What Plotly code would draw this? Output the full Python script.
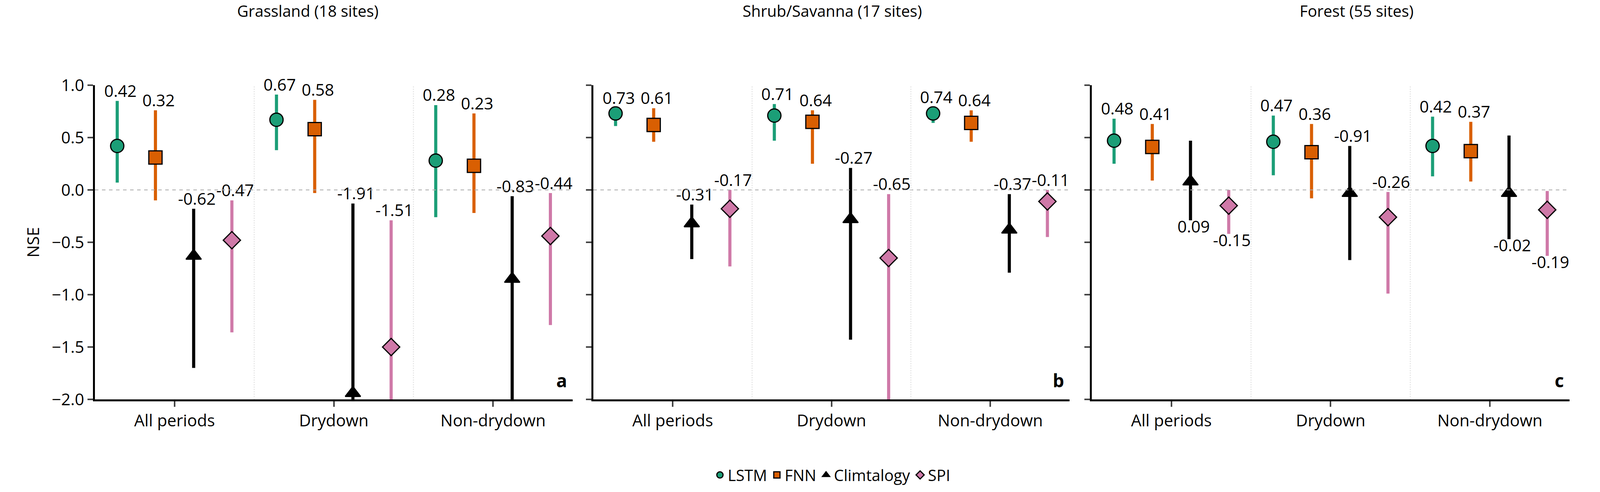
import plotly.graph_objects as go
from plotly.subplots import make_subplots

periods = ['All periods', 'Drydown', 'Non-drydown']
biomes = ['Grassland (18 sites)', 'Shrub/Savanna (17 sites)', 'Forest (55 sites)']
models = ['LSTM', 'FNN', 'Climtalogy', 'SPI']

# per biome: [all, drydown, non-drydown]
# Grassland
grass_med = {'LSTM': [0.42, 0.67, 0.28], 'FNN': [0.31, 0.58, 0.23],
             'Climtalogy': [-0.63, -1.94, -0.85], 'SPI': [-0.48, -1.50, -0.44]}
grass_hi = {'LSTM': [0.85, 0.91, 0.81], 'FNN': [0.76, 0.86, 0.73],
            'Climtalogy': [-0.18, -0.13, -0.06], 'SPI': [-0.10, -0.29, -0.03]}
grass_lo = {'LSTM': [0.07, 0.38, -0.26], 'FNN': [-0.10, -0.03, -0.22],
            'Climtalogy': [-1.70, -2.0, -2.0], 'SPI': [-1.36, -2.0, -1.29]}
grass_lab = {'LSTM': [0.42, 0.67, 0.28], 'FNN': [0.32, 0.58, 0.23],
             'Climtalogy': [-0.62, -1.91, -0.83], 'SPI': [-0.47, -1.51, -0.44]}
# Shrub/Savanna
shrub_med = {'LSTM': [0.73, 0.71, 0.73], 'FNN': [0.62, 0.65, 0.64],
             'Climtalogy': [-0.32, -0.28, -0.38], 'SPI': [-0.18, -0.65, -0.11]}
shrub_hi = {'LSTM': [0.78, 0.82, 0.79], 'FNN': [0.78, 0.76, 0.76],
            'Climtalogy': [-0.14, 0.21, -0.04], 'SPI': [0.0, -0.04, 0.0]}
shrub_lo = {'LSTM': [0.61, 0.47, 0.64], 'FNN': [0.46, 0.25, 0.46],
            'Climtalogy': [-0.66, -1.43, -0.79], 'SPI': [-0.73, -2.0, -0.45]}
shrub_lab = {'LSTM': [0.73, 0.71, 0.74], 'FNN': [0.61, 0.64, 0.64],
             'Climtalogy': [-0.31, -0.27, -0.37], 'SPI': [-0.17, -0.65, -0.11]}
# Forest
forest_med = {'LSTM': [0.47, 0.46, 0.42], 'FNN': [0.41, 0.36, 0.37],
              'Climtalogy': [0.08, -0.03, -0.03], 'SPI': [-0.15, -0.26, -0.19]}
forest_hi = {'LSTM': [0.68, 0.71, 0.70], 'FNN': [0.63, 0.63, 0.65],
             'Climtalogy': [0.47, 0.42, 0.52], 'SPI': [0.0, -0.02, -0.01]}
forest_lo = {'LSTM': [0.25, 0.14, 0.13], 'FNN': [0.09, -0.08, 0.08],
             'Climtalogy': [-0.29, -0.67, -0.47], 'SPI': [-0.42, -0.99, -0.63]}
forest_lab = {'LSTM': [0.48, 0.47, 0.42], 'FNN': [0.41, 0.36, 0.37],
              'Climtalogy': [0.09, -0.91, -0.02], 'SPI': [-0.15, -0.26, -0.19]}

panels = [(grass_med, grass_hi, grass_lo, grass_lab),
          (shrub_med, shrub_hi, shrub_lo, shrub_lab),
          (forest_med, forest_hi, forest_lo, forest_lab)]

colors = {'LSTM': '#1b9e77', 'FNN': '#d95f02', 'Climtalogy': '#000000', 'SPI': '#cf79a8'}
symbols = {'LSTM': 'circle', 'FNN': 'square', 'Climtalogy': 'triangle-up', 'SPI': 'diamond'}
offsets = {'LSTM': -0.36, 'FNN': -0.12, 'Climtalogy': 0.12, 'SPI': 0.36}
# labels drawn below the bar in the forest panel
below = {(2, 'Climtalogy', 0), (2, 'SPI', 0), (2, 'Climtalogy', 2), (2, 'SPI', 2)}

FONT = 'Open Sans'

fig = make_subplots(rows=1, cols=3, subplot_titles=biomes)
doms = [(0.0, 0.324), (0.338, 0.661), (0.676, 1.0)]

for p, (med, hi, lo, lab) in enumerate(panels):
    for m in models:
        xs = [i + offsets[m] for i in range(3)]
        fig.add_trace(go.Scatter(
            x=xs, y=med[m], mode='markers', name=m, showlegend=(p == 0),
            legendgroup=m,
            marker=dict(symbol=symbols[m], color=colors[m], size=34,
                        line=dict(color='black', width=3)),
            error_y=dict(type='data', symmetric=False,
                         array=[h - v for h, v in zip(hi[m], med[m])],
                         arrayminus=[v - l for v, l in zip(med[m], lo[m])],
                         color=colors[m], thickness=8, width=0),
        ), row=1, col=p + 1)
        for i in range(3):
            if (p, m, i) in below:
                ty, pos = lo[m][i], 'bottom center'
            else:
                ty, pos = hi[m][i], 'top center'
            fig.add_trace(go.Scatter(
                x=[xs[i] + 0.02], y=[ty], mode='text', text=['%.2f' % lab[m][i]],
                textposition=pos, showlegend=False, cliponaxis=False,
                textfont=dict(size=42, color='black', family=FONT),
            ), row=1, col=p + 1)
    xa = 'x' if p == 0 else 'x%d' % (p + 1)
    fig.add_annotation(text='<b>%s</b>' % 'abc'[p], xref=xa + ' domain', yref='y domain',
                       x=0.99, y=0.02, xanchor='right', yanchor='bottom', showarrow=False,
                       font=dict(size=46, family=FONT, color='black'))
    fig.add_hline(y=0, line=dict(color='#aaaaaa', width=2, dash='dash'), row=1, col=p + 1)
    for v in [0.5, 1.5]:
        fig.add_vline(x=v, line=dict(color='#dddddd', width=2, dash='dot'), row=1, col=p + 1)
    fig.update_xaxes(domain=doms[p], row=1, col=p + 1)

fig.update_xaxes(range=[-0.5, 2.5], tickvals=[0, 1, 2], ticktext=periods,
                 showgrid=False, zeroline=False, showline=True, linecolor='black',
                 linewidth=5, ticks='outside', ticklen=14, tickwidth=4,
                 tickfont=dict(size=42, family=FONT, color='black'))
fig.update_yaxes(range=[-2.0, 1.0], dtick=0.5, tickformat='.1f', showgrid=False,
                 zeroline=False, showline=True, linecolor='black', linewidth=5,
                 ticks='outside', ticklen=14, tickwidth=4,
                 tickfont=dict(size=42, family=FONT, color='black'))
fig.update_yaxes(showticklabels=False, row=1, col=2)
fig.update_yaxes(showticklabels=False, row=1, col=3)
fig.update_yaxes(title_text='NSE', title_font=dict(size=42, family=FONT, color='black'),
                 title_standoff=20, row=1, col=1)

for a in fig.layout.annotations[:3]:
    a.font = dict(size=40, family=FONT, color='black')
    a.y = 1.2

fig.update_layout(
    autosize=True, plot_bgcolor='white', paper_bgcolor='white',
    margin=dict(l=235, r=70, t=210, b=245),
    legend=dict(orientation='h', x=0.5, xanchor='center', y=-0.2, yanchor='top',
                font=dict(size=40, family=FONT, color='black')),
)

fig.write_html('out.html', default_width='100%', default_height='100vh')
